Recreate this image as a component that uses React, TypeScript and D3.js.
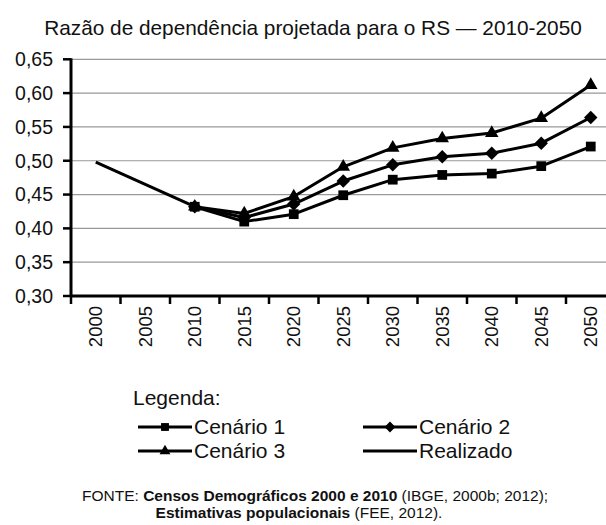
import React from 'react';
import * as d3 from 'd3';

// categories on the x axis
const years = ['2000', '2005', '2010', '2015', '2020', '2025', '2030', '2035', '2040', '2045', '2050'];

// series values (null = no point)
const realizado = [0.498, null, 0.432, null, null, null, null, null, null, null, null];
const cenario1 = [null, null, 0.432, 0.410, 0.421, 0.449, 0.472, 0.479, 0.481, 0.492, 0.521];
const cenario2 = [null, null, 0.432, 0.416, 0.436, 0.470, 0.494, 0.506, 0.511, 0.526, 0.564];
const cenario3 = [null, null, 0.432, 0.422, 0.447, 0.491, 0.519, 0.533, 0.541, 0.563, 0.612];

const yTicks = [0.30, 0.35, 0.40, 0.45, 0.50, 0.55, 0.60, 0.65];

const title = 'Razão de dependência projetada para o RS — 2010-2050';

const W = 606;
const H = 525;
const font = '"Liberation Sans", Arial, sans-serif';

type Marker = 'square' | 'diamond' | 'triangle' | 'none';

const markerPath = (m: Marker, size: number) => {
  if (m === 'square') return d3.symbol(d3.symbolSquare, size)();
  if (m === 'diamond') return d3.symbol(d3.symbolDiamond2, size)();
  if (m === 'triangle') return d3.symbol(d3.symbolTriangle2, size)();
  return null;
};

const series: { name: string; values: (number | null)[]; marker: Marker }[] = [
  { name: 'Realizado', values: realizado, marker: 'none' },
  { name: 'Cenário 1', values: cenario1, marker: 'square' },
  { name: 'Cenário 2', values: cenario2, marker: 'diamond' },
  { name: 'Cenário 3', values: cenario3, marker: 'triangle' },
];

const markerSize: Record<Marker, number> = { square: 95, diamond: 115, triangle: 130, none: 0 };

export default function App() {
  const left = 71;
  const x = d3.scaleBand<string>().domain(years).range([left, left + 49.5 * years.length]);
  const y = d3.scaleLinear().domain([0.3, 0.65]).range([296, 59.3]);

  const line = d3
    .line<{ yr: string; v: number | null }>()
    .defined((d) => d.v != null)
    .x((d) => (x(d.yr) as number) + x.bandwidth() / 2)
    .y((d) => y(d.v as number));

  const pts = (vals: (number | null)[]) => years.map((yr, i) => ({ yr, v: vals[i] })).filter((d) => d.v != null);

  // legend: two columns, two rows
  const legendItems = [
    { s: series[1], lx: 138, ly: 427 },
    { s: series[2], lx: 363, ly: 427 },
    { s: series[3], lx: 138, ly: 451 },
    { s: series[0], lx: 363, ly: 451 },
  ];

  return (
    <svg width={W} height={H} style={{ position: 'absolute', left: 0, top: 0, background: '#fff' }} fontFamily={font}>
      <rect width={W} height={H} fill="#fff" />
      <text x={313} y={35} textAnchor="middle" fontSize={20.8} fill="#111">
        {title}
      </text>

      {/* gridlines */}
      {yTicks.slice(1).map((t) => (
        <line key={t} x1={left} x2={W} y1={y(t)} y2={y(t)} stroke="#999" strokeWidth={1.2} />
      ))}

      {/* y axis */}
      <line x1={left} x2={left} y1={y(0.65) - 1} y2={y(0.3) + 1} stroke="#000" strokeWidth={3} />
      {yTicks.map((t) => (
        <g key={t}>
          <line x1={left - 8} x2={left} y1={y(t)} y2={y(t)} stroke="#000" strokeWidth={2.5} />
          <text x={53} y={y(t)} dy="0.35em" textAnchor="end" fontSize={19.5} fill="#111">
            {d3.format('.2f')(t).replace('.', ',')}
          </text>
        </g>
      ))}

      {/* x axis */}
      <line x1={left} x2={W} y1={y(0.3)} y2={y(0.3)} stroke="#000" strokeWidth={3} />
      {years.map((yr) => (
        <g key={yr}>
          <line x1={x(yr)} x2={x(yr)} y1={y(0.3)} y2={y(0.3) + 8} stroke="#000" strokeWidth={2.5} />
          <text
            transform={`translate(${(x(yr) as number) + x.bandwidth() / 2},306) rotate(-90)`}
            dy="0.35em"
            textAnchor="end"
            fontSize={18.5}
            fill="#111"
          >
            {yr}
          </text>
        </g>
      ))}

      {/* series */}
      {series.map((s) => (
        <g key={s.name}>
          <path d={line(pts(s.values)) || ''} fill="none" stroke="#000" strokeWidth={3} strokeLinejoin="round" />
          {s.marker !== 'none' &&
            pts(s.values).map((d) => (
              <path
                key={d.yr}
                d={markerPath(s.marker, markerSize[s.marker]) || ''}
                transform={`translate(${(x(d.yr) as number) + x.bandwidth() / 2},${y(d.v as number)})`}
                fill="#000"
              />
            ))}
        </g>
      ))}

      {/* legend */}
      <text x={133} y={405} fontSize={21} fill="#111">
        Legenda:
      </text>
      {legendItems.map(({ s, lx, ly }) => (
        <g key={s.name}>
          <line x1={lx} x2={lx + 54} y1={ly} y2={ly} stroke="#000" strokeWidth={3} />
          {s.marker !== 'none' && (
            <path d={markerPath(s.marker, markerSize[s.marker] * 0.65) || ''} transform={`translate(${lx + 27},${ly})`} fill="#000" />
          )}
          <text x={lx + 56} y={ly} dy="0.35em" fontSize={21} fill="#111">
            {s.name}
          </text>
        </g>
      ))}

      {/* source */}
      <text x={82} y={501} fontSize={15.5} fill="#111">
        FONTE: <tspan fontWeight="bold">Censos Demográficos 2000 e 2010</tspan> (IBGE, 2000b; 2012);
      </text>
      <text x={299} y={518} fontSize={15.5} textAnchor="middle" fill="#111">
        <tspan fontWeight="bold">Estimativas populacionais</tspan> (FEE, 2012).
      </text>
    </svg>
  );
}
